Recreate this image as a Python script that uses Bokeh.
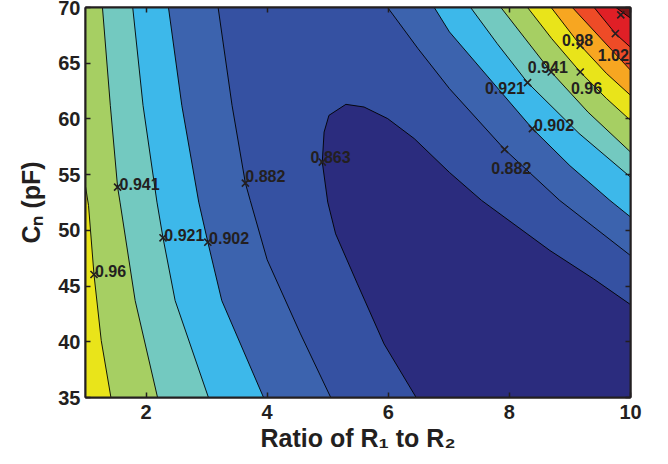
from bokeh.plotting import figure
from bokeh.models import LinearAxis, Range1d, FixedTicker, ColumnDataSource
from bokeh.embed import file_html
from bokeh.resources import INLINE
from bokeh.core.properties import value

# ---------------- data ----------------
X_MIN, X_MAX = 1.0, 10.0
Y_MIN, Y_MAX = 35.0, 70.0
x_ticks = [2, 4, 6, 8, 10]
y_ticks = [35, 40, 45, 50, 55, 60, 65, 70]
x_title = "Ratio of R\u2081 to R\u2082"
y_title = "C\u2099 (pF)"

levels = [0.863, 0.882, 0.902, 0.921, 0.941, 0.96, 0.98, 1.0, 1.02, 1.04]
band_colors = ["#2b2c7e", "#3551a2", "#3c63ae", "#3db8ea", "#73c9c0", "#a6cf63",
               "#e9e41a", "#f7a621", "#ee4b27", "#e01f26", "#7e1416"]

# lowest contour (0.863): from bottom edge, round the top, to right edge
c0863_x = [6.46, 5.93, 5.49, 5.13, 5.00, 4.91, 4.94, 5.02, 5.30, 5.60, 5.99, 6.43, 7.01, 7.54, 8.67, 9.39, 10.00]
c0863_y = [35.00, 39.81, 45.20, 49.69, 52.53, 56.13, 58.82, 60.32, 61.31, 61.07, 60.03, 58.23, 55.20, 52.69, 48.19, 45.65, 43.34]

# left branches (bottom edge -> top or left edge)
left_0882_x = [5.05, 4.55, 4.00, 3.72, 3.64, 3.42, 3.19]
left_0882_y = [35.00, 40.71, 47.36, 52.69, 54.24, 61.22, 70.00]
left_0902_x = [3.94, 3.25, 3.02, 2.87, 2.59, 2.37]
left_0902_y = [35.00, 43.70, 48.94, 52.53, 61.22, 70.00]
left_0921_x = [3.03, 2.48, 2.28, 2.18, 1.95, 1.78]
left_0921_y = [35.00, 43.70, 49.33, 52.53, 61.22, 70.00]
left_0941_x = [2.19, 1.82, 1.57, 1.53, 1.41, 1.28]
left_0941_y = [35.00, 43.70, 52.53, 53.88, 61.22, 70.00]
left_0960_x = [1.42, 1.26, 1.14, 1.05, 1.00]
left_0960_y = [35.00, 40.11, 46.04, 52.24, 53.94]

# right branches (top edge -> right edge)
right_0882_x = [5.99, 6.49, 7.01, 7.92, 8.83, 10.00]
right_0882_y = [70.00, 66.32, 62.72, 57.27, 52.69, 47.74]
right_0902_x = [6.76, 7.01, 7.69, 8.38, 9.00, 9.66, 10.00]
right_0902_y = [70.00, 67.81, 63.50, 59.13, 55.80, 52.69, 51.20]
right_0921_x = [7.36, 7.80, 8.30, 9.15, 10.00]
right_0921_y = [70.00, 66.75, 63.26, 58.70, 54.78]
right_0941_x = [7.86, 8.69, 9.30, 10.00]
right_0941_y = [70.00, 64.21, 60.60, 57.03]
right_0960_x = [8.30, 8.70, 9.17, 9.60, 10.00]
right_0960_y = [70.00, 67.20, 64.21, 61.85, 59.87]
right_0980_x = [8.69, 9.17, 9.60, 10.00]
right_0980_y = [70.00, 66.61, 64.10, 62.12]
right_1000_x = [9.04, 9.51, 10.00]
right_1000_y = [70.00, 67.24, 64.37]
right_1020_x = [9.40, 9.75, 10.00]
right_1020_y = [70.00, 67.66, 66.43]
right_1040_x = [9.76, 10.00]
right_1040_y = [70.00, 69.04]

left_branches = {
    0.882: (left_0882_x, left_0882_y), 0.902: (left_0902_x, left_0902_y),
    0.921: (left_0921_x, left_0921_y), 0.941: (left_0941_x, left_0941_y),
    0.96: (left_0960_x, left_0960_y),
}
right_branches = {
    0.882: (right_0882_x, right_0882_y), 0.902: (right_0902_x, right_0902_y),
    0.921: (right_0921_x, right_0921_y), 0.941: (right_0941_x, right_0941_y),
    0.96: (right_0960_x, right_0960_y), 0.98: (right_0980_x, right_0980_y),
    1.0: (right_1000_x, right_1000_y), 1.02: (right_1020_x, right_1020_y),
    1.04: (right_1040_x, right_1040_y),
}

# contour labels (marker positions and text)
lab_x = [1.14, 1.53, 2.28, 3.02, 3.64, 4.91, 7.92, 8.38, 8.30, 8.69, 9.17, 9.17, 9.75]
lab_y = [46.04, 53.88, 49.33, 48.94, 54.24, 56.13, 57.27, 59.13, 63.26, 64.21, 64.21, 66.61, 67.66]
lab_text = ["0.96", "0.941", "0.921", "0.902", "0.882", "0.863", "0.882", "0.902",
            "0.921", "0.941", "0.96", "0.98", "1.02"]
# a label mark whose text falls outside the axes
extra_mark_x = [9.84]
extra_mark_y = [69.34]

# ---------------- layout / style ----------------
lab_dx = [1, 2, 1.3, 1.3, 0, -11.7, -13.3, 1.6, -42.6, -23.4, -9.3, -18.3, -17.6]
lab_dy = [-3.3, -3.4, -3, -4, -6.7, -5, 18.7, -3.7, 5, -5, 16, -5, 21]

INK = "#231f20"
FONT = "Liberation Sans"
W, H = 668, 464

p = figure(width=W, height=H, x_range=Range1d(X_MIN, X_MAX), y_range=Range1d(Y_MIN, Y_MAX),
           output_backend="svg", toolbar_location=None,
           min_border_left=85, min_border_right=38, min_border_top=7, min_border_bottom=67)
p.background_fill_color = band_colors[-1]
p.border_fill_color = "white"
p.grid.visible = False
p.outline_line_color = INK
p.outline_line_width = 2

# filled regions {f < level}, drawn from the highest level down
for i in range(len(levels) - 1, 0, -1):
    L = levels[i]
    xs, ys = [], []
    if L in left_branches:
        lx, ly = left_branches[L]
        xs += list(lx)
        ys += list(ly)
        if lx[-1] <= X_MIN:
            xs.append(X_MIN)
            ys.append(Y_MAX)
    else:
        xs += [X_MIN, X_MIN]
        ys += [Y_MIN, Y_MAX]
    rx, ry = right_branches[L]
    xs += list(rx) + [X_MAX]
    ys += list(ry) + [Y_MIN]
    p.patch(xs, ys, fill_color=band_colors[i], line_color=None)
p.patch(c0863_x + [X_MAX], c0863_y + [Y_MIN], fill_color=band_colors[0], line_color=None)

# contour lines
line_xs = [c0863_x] + [v[0] for v in left_branches.values()] + [v[0] for v in right_branches.values()]
line_ys = [c0863_y] + [v[1] for v in left_branches.values()] + [v[1] for v in right_branches.values()]
p.multi_line(line_xs, line_ys, line_color="black", line_width=0.9)

# label marks and texts
src = ColumnDataSource(dict(x=lab_x, y=lab_y, t=lab_text, dx=lab_dx, dy=lab_dy))
p.scatter("x", "y", source=src, marker="x", size=10, line_width=1.6, line_color=INK)
p.scatter(extra_mark_x, extra_mark_y, marker="x", size=10, line_width=1.6, line_color=INK)
p.text("x", "y", text="t", source=src, x_offset="dx", y_offset="dy",
       text_font=value(FONT), text_font_style="bold", text_font_size="16px",
       text_color=INK, text_align="left", text_baseline="alphabetic")

# axes
def style_axis(ax, ticks):
    ax.ticker = FixedTicker(ticks=ticks)
    ax.axis_line_color = INK
    ax.axis_line_width = 2
    ax.major_tick_line_color = INK
    ax.major_tick_line_width = 1.5
    ax.major_tick_in = 5
    ax.major_tick_out = 0
    ax.minor_tick_line_color = None
    ax.major_label_text_font = FONT
    ax.major_label_text_font_style = "bold"
    ax.major_label_text_font_size = "20px"
    ax.major_label_text_color = INK
    ax.axis_label_text_font = FONT
    ax.axis_label_text_font_style = "bold"
    ax.axis_label_text_font_size = "25px"
    ax.axis_label_text_color = INK

style_axis(p.xaxis[0], x_ticks)
style_axis(p.yaxis[0], y_ticks)
p.xaxis[0].major_label_standoff = 7
p.yaxis[0].major_label_standoff = 5
p.xaxis[0].axis_label = x_title
p.yaxis[0].axis_label = y_title
p.xaxis[0].axis_label_standoff = 2
p.yaxis[0].axis_label_standoff = 10

for side, ticks in (("above", x_ticks), ("right", y_ticks)):
    ax = LinearAxis()
    style_axis(ax, ticks)
    ax.major_label_overrides = {t: "" for t in ticks}
    ax.major_label_text_font_size = "1px"
    ax.major_label_standoff = 0
    p.add_layout(ax, side)

open("out.html", "w").write(file_html(p, INLINE))
